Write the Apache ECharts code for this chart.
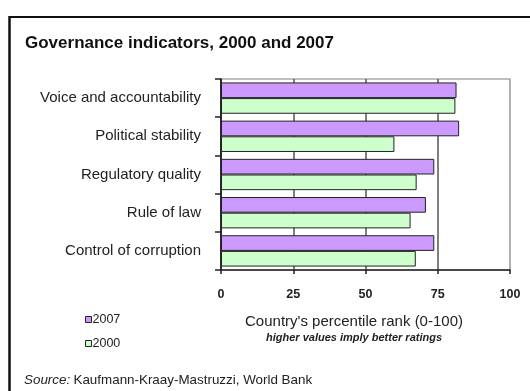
<!DOCTYPE html>
<html>
<head>
<meta charset="utf-8">
<script src="https://cdn.jsdelivr.net/npm/echarts@6/dist/echarts.min.js"></script>
<style>
  html, body { margin: 0; padding: 0; background: #fff; }
  #chart { width: 530px; height: 391px; }
</style>
</head>
<body>
<div id="chart"></div>
<script>
// Governance indicators, percentile ranks by dimension
const categories = [
  'Voice and accountability',
  'Political stability',
  'Regulatory quality',
  'Rule of law',
  'Control of corruption'
];
const values2007 = [81.5, 82.4, 73.8, 70.9, 73.8];
const values2000 = [81.1, 60.0, 67.7, 65.6, 67.4];
const xTicks = [0, 25, 50, 75, 100];

const FONT = "'Liberation Sans', Arial, sans-serif";

const chart = echarts.init(document.getElementById('chart'), null, { renderer: 'canvas' });

chart.setOption({
  backgroundColor: '#fff',
  animation: false,
  textStyle: { fontFamily: FONT },
  title: {
    text: 'Governance indicators, 2000 and 2007',
    left: 20,
    top: 30,
    textStyle: { fontFamily: FONT, fontSize: 17, fontWeight: 'bold', color: '#111' }
  },
  legend: {
    orient: 'vertical',
    left: 80,
    top: 308,
    itemWidth: 6,
    itemHeight: 6,
    itemGap: 11,
    icon: 'rect',
    itemStyle: { borderColor: '#222', borderWidth: 1 },
    textStyle: { fontFamily: FONT, fontSize: 12.5, color: '#222', padding: [0, 0, 0, -4] },
    data: ['2007', '2000']
  },
  grid: {
    left: 221,
    right: 20,
    top: 79,
    bottom: 121,
    show: true,
    borderColor: '#aaa',
    borderWidth: 1.5
  },
  xAxis: {
    type: 'value',
    min: xTicks[0],
    max: xTicks[xTicks.length - 1],
    interval: 25,
    axisLine: { show: true, lineStyle: { color: '#222', width: 1.5 } },
    axisTick: { show: true, length: 4, lineStyle: { color: '#222', width: 1.5 } },
    axisLabel: {
      margin: 18,
      fontFamily: FONT,
      fontSize: 12.5,
      fontWeight: 'bold',
      color: '#222'
    },
    splitLine: {
      show: true,
      lineStyle: { color: ['#222', '#555', '#555', '#555', '#aaa'], width: 1.5 }
    }
  },
  yAxis: {
    type: 'category',
    inverse: true,
    data: categories,
    axisLine: { show: true, lineStyle: { color: '#222', width: 1.5 } },
    axisTick: { show: true, length: 6, lineStyle: { color: '#222', width: 1.5 } },
    axisLabel: {
      margin: 20,
      fontFamily: FONT,
      fontSize: 15,
      color: '#222'
    }
  },
  series: [
    {
      name: '2007',
      type: 'bar',
      data: values2007,
      barGap: '0%',
      barCategoryGap: '18%',
      itemStyle: { color: '#cc99ff', borderColor: '#222', borderWidth: 1 }
    },
    {
      name: '2000',
      type: 'bar',
      data: values2000,
      barGap: '0%',
      barCategoryGap: '18%',
      itemStyle: { color: '#ccffcc', borderColor: '#222', borderWidth: 1 }
    }
  ],
  graphic: [
    // frame around the panel
    { type: 'line', shape: { x1: 9, y1: 17, x2: 530, y2: 17 }, style: { stroke: '#111', lineWidth: 2 } },
    { type: 'line', shape: { x1: 9.5, y1: 16, x2: 9.5, y2: 391 }, style: { stroke: '#111', lineWidth: 2.5 } },
    // axis title and its note
    {
      type: 'text',
      style: {
        text: "Country's percentile rank (0-100)",
        x: 354, y: 322,
        align: 'center',
        verticalAlign: 'middle',
        font: "15px 'Liberation Sans', Arial, sans-serif",
        fill: '#222'
      }
    },
    {
      type: 'text',
      style: {
        text: 'higher values imply better ratings',
        x: 354, y: 338,
        align: 'center',
        verticalAlign: 'middle',
        font: "italic bold 11px 'Liberation Sans', Arial, sans-serif",
        fill: '#222'
      }
    },
    {
      type: 'text',
      style: {
        rich: {
          i: { fontStyle: 'italic', fontSize: 13.4, fontFamily: FONT, fill: '#222' },
          n: { fontSize: 13.4, fontFamily: FONT, fill: '#222' }
        },
        text: '{i|Source:} {n|Kaufmann-Kraay-Mastruzzi, World Bank}',
        x: 24, y: 374
      }
    }
  ]
});
</script>
</body>
</html>
